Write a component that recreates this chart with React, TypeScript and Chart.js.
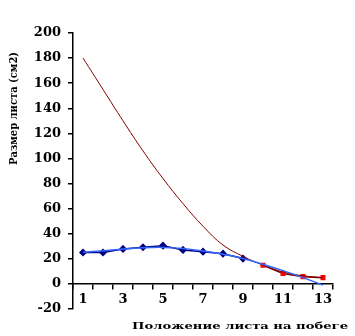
import React, { useEffect, useRef } from "react";
import { Chart, registerables } from "chart.js";

Chart.register(...registerables);

const categories = ["1", "2", "3", "4", "5", "6", "7", "8", "9", "10", "11", "12", "13"];
const blueSeries = [25, 25, 27.9, 29.2, 30.5, 27.1, 25.7, 24.1, 20.2, null, null, null, null];
const redSeries = [null, null, null, null, null, null, null, null, null, 14.9, 8.3, 5.8, 5.0];
const blueTrend = [25.2, 26.4, 27.8, 28.8, 29.1, 28.2, 26.2, 23.6, 20.3, 15.6, 10.6, 5, -1];
const redTrend = [180, 155, 130, 106, 84, 64, 46, 31, 22, 15, 9.5, 6.5, 5];
const yMin = -20;
const yMax = 200;
const yStep = 20;
const xTitle = "Положение листа на побеге";
const yTitle = "Размер листа (см2)";

const titlePlugin = {
  id: "customTitles",
  afterDraw(chart: any) {
    const ctx = chart.ctx;
    ctx.save();
    ctx.fillStyle = "#000";
    ctx.font = 'bold 10px "DejaVu Serif"';
    ctx.textBaseline = "alphabetic";
    ctx.textAlign = "left";
    const xw = ctx.measureText(xTitle).width;
    ctx.translate(132, 329);
    ctx.scale(216 / xw, 1);
    ctx.fillText(xTitle, 0, 0);
    ctx.restore();

    ctx.save();
    ctx.fillStyle = "#000";
    ctx.font = 'bold 11px "DejaVu Serif"';
    ctx.textBaseline = "alphabetic";
    ctx.textAlign = "left";
    const yw = ctx.measureText(yTitle).width;
    ctx.translate(17, 165);
    ctx.rotate(-Math.PI / 2);
    ctx.scale(113 / yw, 1);
    ctx.fillText(yTitle, 0, 0);
    ctx.restore();
  },
};

export default function App() {
  const ref = useRef<HTMLCanvasElement | null>(null);
  useEffect(() => {
    if (!ref.current) return;
    const tickFont = { family: "DejaVu Serif", size: 13, weight: "bold" as const };
    const chart = new Chart(ref.current, {
      type: "line",
      data: {
        labels: categories,
        datasets: [
          {
            data: blueTrend,
            borderColor: "#3366FF",
            borderWidth: 1.5,
            pointRadius: 0,
            tension: 0.4,
            fill: false,
          },
          {
            data: redTrend,
            borderColor: "#800000",
            borderWidth: 1,
            pointRadius: 0,
            tension: 0.4,
            fill: false,
          },
          {
            data: blueSeries,
            borderColor: "#000080",
            backgroundColor: "#000080",
            borderWidth: 1.5,
            pointStyle: "rectRot",
            pointRadius: 3,
            pointBorderColor: "#000080",
            pointBackgroundColor: "#000080",
            tension: 0,
            fill: false,
          },
          {
            data: redSeries,
            borderColor: "#800000",
            backgroundColor: "#FF0000",
            borderWidth: 1.5,
            pointStyle: "rect",
            pointRadius: 2.5,
            pointBorderColor: "#FF0000",
            pointBackgroundColor: "#FF0000",
            tension: 0,
            fill: false,
          },
        ],
      },
      options: {
        responsive: false,
        animation: false,
        layout: { padding: { top: 33, bottom: 27, right: 22, left: 0 } },
        plugins: {
          legend: { display: false },
          tooltip: { enabled: false },
        },
        scales: {
          x: {
            type: "category",
            offset: true,
            position: { y: 0 } as any,
            grid: {
              offset: true,
              drawOnChartArea: false,
              drawTicks: true,
              tickLength: 5,
              color: "#000",
              lineWidth: 1.5,
            },
            border: { display: true, color: "#000", width: 1.5 },
            ticks: {
              autoSkip: false,
              maxRotation: 0,
              color: "#000",
              font: tickFont,
              padding: 3,
              callback: (_v: any, i: number) => (i % 2 === 0 ? categories[i] : ""),
            },
          },
          y: {
            min: yMin,
            max: yMax,
            afterFit: (scale: any) => {
              scale.width = 73;
            },
            grid: {
              drawOnChartArea: false,
              drawTicks: true,
              tickLength: 5,
              color: "#000",
              lineWidth: 1.5,
            },
            border: { display: true, color: "#000", width: 1.5 },
            ticks: {
              stepSize: yStep,
              color: "#000",
              font: tickFont,
              padding: 7,
            },
          },
        },
      },
      plugins: [titlePlugin],
    });
    return () => chart.destroy();
  }, []);
  return (
    <div style={{ position: "absolute", left: 0, top: 0, width: 355, height: 336, background: "#fff" }}>
      <canvas ref={ref} width={355} height={336} />
    </div>
  );
}
